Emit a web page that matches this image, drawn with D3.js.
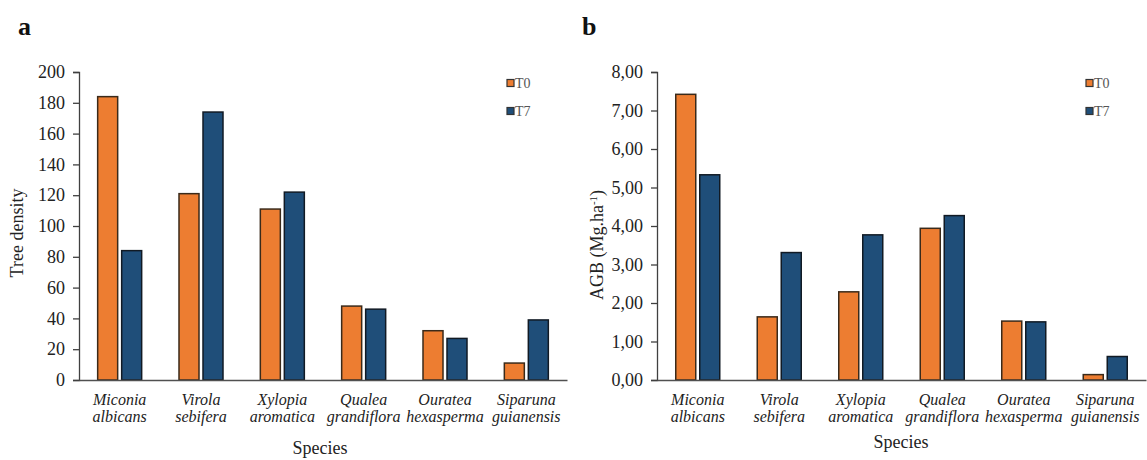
<!DOCTYPE html>
<html>
<head>
<meta charset="utf-8">
<script src="https://cdn.jsdelivr.net/npm/d3@7"></script>
<style>
  html, body { margin: 0; padding: 0; background: #fff; }
  svg { display: block; }
  text { font-family: "Liberation Serif", "Times New Roman", serif; }
</style>
</head>
<body>
<svg id="chart" width="1147" height="460"></svg>
<script>
// ---- data ----
const speciesLine1 = ["Miconia", "Virola", "Xylopia", "Qualea", "Ouratea", "Siparuna"];
const speciesLine2 = ["albicans", "sebifera", "aromatica", "grandiflora", "hexasperma", "guianensis"];
const seriesNames = ["T0", "T7"];
const densityT0 = [184, 121, 111, 48, 32, 11];
const densityT7 = [84, 174, 122, 46, 27, 39];
const agbT0 = [7.42, 1.64, 2.29, 3.94, 1.53, 0.14];
const agbT7 = [5.33, 3.31, 3.77, 4.27, 1.51, 0.61];
const densityTicks = [0, 20, 40, 60, 80, 100, 120, 140, 160, 180, 200];
const agbTicks = [0, 1, 2, 3, 4, 5, 6, 7, 8];
const colors = { T0: "#ED7D31", T7: "#1F4E79" };
const strokes = { T0: "#3a2a1a", T7: "#111a24" };

const svg = d3.select("#chart");

function panel(opts) {
  const g = svg.append("g");
  const x0 = d3.scaleBand().domain(speciesLine1).range([opts.left, opts.right]).paddingInner(0).paddingOuter(0);
  const bw = x0.bandwidth();
  const x1 = d3.scaleBand().domain(seriesNames).range([bw / 2 - 22, bw / 2 + 22]).paddingInner(1 / 6).paddingOuter(0);
  const y = d3.scaleLinear().domain([0, opts.max]).range([380, 72]);

  // bars
  const rows = speciesLine1.map((s, i) => ({ s, vals: [{ k: "T0", v: opts.t0[i] }, { k: "T7", v: opts.t7[i] }] }));
  const grp = g.selectAll("g.grp").data(rows).join("g")
    .attr("transform", d => `translate(${x0(d.s)},0)`);
  grp.selectAll("rect").data(d => d.vals).join("rect")
    .attr("x", d => x1(d.k))
    .attr("width", x1.bandwidth())
    .attr("y", d => y(d.v))
    .attr("height", d => y(0) - y(d.v))
    .attr("fill", d => colors[d.k])
    .attr("stroke", d => strokes[d.k])
    .attr("stroke-width", 1.5);

  // y axis
  const yAxis = d3.axisLeft(y).tickValues(opts.ticks).tickSize(6).tickPadding(8).tickFormat(opts.fmt);
  const ya = g.append("g").attr("transform", `translate(${opts.left},0)`).call(yAxis);
  ya.select(".domain").attr("stroke", "#404040").attr("stroke-width", 1.3);
  ya.selectAll(".tick line").attr("stroke", "#404040").attr("stroke-width", 1.3);
  ya.selectAll(".tick text").attr("font-size", 18).attr("fill", "#222")
    .style("font-family", '"Liberation Serif", serif');

  // x axis (line only)
  const xAxis = d3.axisBottom(x0).tickSize(0).tickFormat("");
  const xa = g.append("g").attr("transform", `translate(0,${y(0)})`).call(xAxis);
  xa.select(".domain").attr("stroke", "#505050").attr("stroke-width", 1.6);

  // category labels
  const lab = g.selectAll("text.cat").data(speciesLine1.map((s, i) => ({ s, l2: speciesLine2[i] }))).join("text")
    .attr("class", "cat")
    .attr("text-anchor", "middle")
    .attr("font-style", "italic")
    .attr("font-size", 16)
    .attr("fill", "#222");
  lab.append("tspan").attr("x", d => x0(d.s) + bw / 2).attr("y", 405).text(d => d.s);
  lab.append("tspan").attr("x", d => x0(d.s) + bw / 2).attr("y", 422).text(d => d.l2);

  // x title
  g.append("text").attr("x", opts.xTitleX).attr("y", opts.xTitleY).attr("text-anchor", "middle")
    .attr("font-size", 18).attr("fill", "#222").text("Species");

  // y title
  const yt = g.append("text")
    .attr("transform", `translate(${opts.yTitleX},${opts.yTitleY}) rotate(-90)`)
    .attr("text-anchor", "middle").attr("font-size", 18).attr("fill", "#222");
  opts.yTitle(yt);

  // panel letter
  g.append("text").attr("x", opts.letterX).attr("y", 35).attr("font-size", 26).attr("font-weight", "bold")
    .attr("fill", "#111").text(opts.letter);

  // legend
  const leg = g.selectAll("g.leg").data(seriesNames).join("g")
    .attr("transform", (d, i) => `translate(${opts.legX},${83 + i * 28})`);
  leg.append("rect").attr("x", 0).attr("y", -3.5).attr("width", 7).attr("height", 7)
    .attr("fill", d => colors[d]).attr("stroke", "#333").attr("stroke-width", 1.2);
  leg.append("text").attr("x", 8).attr("y", 4.5).attr("font-size", 14).attr("fill", "#555").text(d => d);
}

const commaFmt = d3.formatLocale({ decimal: ",", thousands: ".", grouping: [3], currency: ["", ""] }).format(".2f");

panel({
  left: 79, right: 567, max: 200, t0: densityT0, t7: densityT7, ticks: densityTicks,
  fmt: d3.format("d"), letter: "a", letterX: 18, legX: 507,
  xTitleX: 320, xTitleY: 454, yTitleX: 23, yTitleY: 233,
  yTitle: t => t.text("Tree density")
});

panel({
  left: 657, right: 1146, max: 8, t0: agbT0, t7: agbT7, ticks: agbTicks,
  fmt: commaFmt, letter: "b", letterX: 582, legX: 1086,
  xTitleX: 901, xTitleY: 448, yTitleX: 603, yTitleY: 245,
  yTitle: t => {
    t.append("tspan").text("AGB (Mg.ha");
    t.append("tspan").attr("baseline-shift", "super").attr("font-size", 11).text("-1");
    t.append("tspan").text(")");
  }
});
</script>
</body>
</html>
